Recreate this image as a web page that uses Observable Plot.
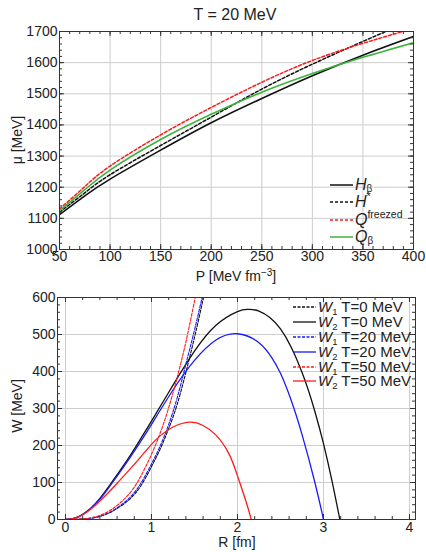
<!DOCTYPE html>
<html><head><meta charset="utf-8">
<script src="https://cdn.jsdelivr.net/npm/d3@7"></script>
<script src="https://cdn.jsdelivr.net/npm/@observablehq/plot@0.6"></script>
<style>
body{margin:0;background:#fff;}
#wrap{position:relative;width:426px;height:552px;overflow:hidden;}
#wrap svg{position:absolute;left:0;}
</style></head><body><div id="wrap"></div>
<script>
// ---------- data: top panel (T = 20 MeV) ----------
const P = [50, 75, 100, 150, 200, 250, 300, 350, 400];
const muHbeta    = [1112, 1172, 1226, 1319, 1407, 1485, 1558, 1624, 1684];
const muHstar    = [1120, 1182, 1240, 1334, 1425, 1515, 1595, 1668, 1738];
const muQfreezed = [1130, 1202, 1268, 1368, 1456, 1537, 1607, 1662, 1710];
const muQbeta    = [1124, 1192, 1255, 1353, 1434, 1505, 1565, 1617, 1664];
const topXTicks = [50, 100, 150, 200, 250, 300, 350, 400];
const topYTicks = [1000, 1100, 1200, 1300, 1400, 1500, 1600, 1700];

// ---------- data: bottom panel ----------
const R_W1_T0  = [0, 0.25, 0.5, 0.75, 0.9, 1.0, 1.1, 1.2, 1.3, 1.4, 1.5, 1.6, 1.66];
const W1_T0    = [0, 2, 17, 56, 100, 143, 190, 246, 312, 398, 492, 595, 660];
const R_W2_T0  = [0, 0.1, 0.2, 0.3, 0.4, 0.5, 0.6, 0.75, 0.9, 1.0, 1.25, 1.5, 1.75, 2.0, 2.12, 2.25, 2.5, 2.75, 2.9, 3.0, 3.1, 3.19];
const W2_T0    = [0, 3, 14, 32, 57, 88, 121, 172, 228, 266, 363, 455, 525, 562, 568, 563, 515, 398, 292, 205, 103, 0];
const R_W1_T20 = [0, 0.25, 0.5, 0.75, 0.9, 1.0, 1.1, 1.2, 1.3, 1.4, 1.5, 1.6, 1.65];
const W1_T20   = [0, 2, 18, 60, 107, 150, 198, 257, 330, 420, 512, 612, 665];
const R_W2_T20 = [0, 0.1, 0.2, 0.3, 0.4, 0.5, 0.6, 0.75, 0.9, 1.0, 1.25, 1.5, 1.75, 2.0, 2.25, 2.4, 2.5, 2.62, 2.75, 2.9, 3.0];
const W2_T20   = [0, 3, 13, 31, 55, 85, 117, 167, 220, 257, 350, 430, 485, 502, 478, 437, 395, 325, 230, 100, 0];
const R_W1_T50 = [0, 0.25, 0.5, 0.75, 0.9, 1.0, 1.1, 1.2, 1.3, 1.4, 1.5, 1.56];
const W1_T50   = [0, 3, 22, 72, 128, 176, 233, 302, 385, 480, 590, 660];
const R_W2_T50 = [0, 0.1, 0.2, 0.3, 0.4, 0.5, 0.6, 0.75, 0.9, 1.0, 1.1, 1.25, 1.445, 1.6, 1.75, 1.9, 2.0, 2.1, 2.16];
const W2_T50   = [0, 3, 13, 29, 50, 73, 98, 136, 176, 203, 226, 250, 263, 254, 228, 178, 118, 48, 0];
const botXTicks = [0, 1, 2, 3, 4];
const botYTicks = [0, 100, 200, 300, 400, 500, 600];

// ---------- style ----------
const FONT = '"Liberation Sans", Arial, Helvetica, sans-serif';
const GRID = "#cdcdcd", FRAME = "#333333";
const BLACK = "#111111", RED = "#ff1a1a", GREEN = "#3cb43c", BLUE = "#1a1aff";

function frameTicks(xs, ys, len, pw, ph) {
  return [
    Plot.ruleX(xs, {x: d => d, insetTop: ph - len, stroke: FRAME}),
    Plot.ruleX(xs, {x: d => d, insetBottom: ph - len, stroke: FRAME}),
    Plot.ruleY(ys, {y: d => d, insetRight: pw - len, stroke: FRAME}),
    Plot.ruleY(ys, {y: d => d, insetLeft: pw - len, stroke: FRAME})
  ];
}
const pts = (xs, ys) => xs.map((x, i) => ({x, y: ys[i]}));

const wrap = document.getElementById("wrap");

// ---------- top plot ----------
const tW = 426, tH = 276, tML = 59, tMR = 13, tMT = 31, tMB = 27;
const tPW = tW - tML - tMR, tPH = tH - tMT - tMB;
const topMinorX = d3.range(50, 401, 10), topMinorY = d3.range(1000, 1701, 20);
const tl = (ys, color, dashed) => Plot.line(pts(P, ys), {
  x: "x", y: "y", stroke: color, strokeWidth: dashed ? 1.5 : 1.6,
  strokeDasharray: dashed ? "3,2" : null, curve: "natural", clip: true
});
const topPlot = Plot.plot({
  width: tW, height: tH, marginLeft: tML, marginRight: tMR, marginTop: tMT, marginBottom: tMB,
  x: {domain: [50, 400]}, y: {domain: [1000, 1700]},
  style: {fontFamily: FONT, fontSize: "14px", background: "transparent", color: "#222"},
  marks: [
    Plot.gridX(topXTicks, {stroke: GRID, strokeOpacity: 1}),
    Plot.gridY(topYTicks, {stroke: GRID, strokeOpacity: 1}),
    tl(muHbeta, BLACK, false),
    tl(muHstar, BLACK, true),
    tl(muQfreezed, RED, true),
    tl(muQbeta, GREEN, false),
    ...frameTicks(topMinorX, topMinorY, 3, tPW, tPH),
    ...frameTicks(topXTicks, topYTicks, 5, tPW, tPH),
    Plot.frame({stroke: FRAME}),
    Plot.axisX(topXTicks, {tickSize: 0, tickPadding: 2, label: null, fontSize: 14, tickFormat: d => String(d)}),
    Plot.axisY(topYTicks, {tickSize: 0, tickPadding: 2, label: null, fontSize: 14, tickFormat: d => String(d)})
  ]
});
topPlot.style.top = "0px";
wrap.appendChild(topPlot);

// ---------- bottom plot ----------
const bW = 426, bH = 276, bML = 57, bMR = 11, bMT = 21, bMB = 33;
const bPW = bW - bML - bMR, bPH = bH - bMT - bMB;
const botMinorX = d3.range(0, 4.01, 0.2), botMinorY = d3.range(0, 601, 20);
const bl = (xs, ys, color, dashed) => Plot.line(pts(xs, ys), {
  x: "x", y: "y", stroke: color, strokeWidth: dashed ? 1.1 : 1.3,
  strokeDasharray: dashed ? "3,1.5" : null, curve: "natural", clip: true
});
const botPlot = Plot.plot({
  width: bW, height: bH, marginLeft: bML, marginRight: bMR, marginTop: bMT, marginBottom: bMB,
  x: {domain: [-0.093, 4.07]}, y: {domain: [0, 600]},
  style: {fontFamily: FONT, fontSize: "14px", background: "transparent", color: "#222"},
  marks: [
    Plot.gridX(botXTicks, {stroke: GRID, strokeOpacity: 1}),
    Plot.gridY(botYTicks, {stroke: GRID, strokeOpacity: 1}),
    bl(R_W1_T0, W1_T0, BLACK, true),
    bl(R_W2_T0, W2_T0, BLACK, false),
    bl(R_W1_T20, W1_T20, BLUE, true),
    bl(R_W2_T20, W2_T20, BLUE, false),
    bl(R_W1_T50, W1_T50, RED, true),
    bl(R_W2_T50, W2_T50, RED, false),
    ...frameTicks(botMinorX, botMinorY, 3, bPW, bPH),
    ...frameTicks(botXTicks, botYTicks, 5, bPW, bPH),
    Plot.frame({stroke: FRAME}),
    Plot.axisX(botXTicks, {tickSize: 0, tickPadding: 3, label: null, fontSize: 14, tickFormat: d => String(d)}),
    Plot.axisY(botYTicks, {tickSize: 0, tickPadding: 2, label: null, fontSize: 14, tickFormat: d => String(d)})
  ]
});
botPlot.style.top = "276px";
wrap.appendChild(botPlot);

// ---------- overlay: title, axis labels, legends ----------
const ov = d3.select(wrap).append("svg")
  .attr("width", 426).attr("height", 552)
  .style("top", "0px").style("pointer-events", "none")
  .attr("font-family", FONT).attr("fill", "#222");

ov.append("text").attr("x", 235).attr("y", 20).attr("text-anchor", "middle")
  .attr("font-size", 16).text("T = 20 MeV");

const xl1 = ov.append("text").attr("x", 236).attr("y", 281).attr("text-anchor", "middle").attr("font-size", 14);
xl1.append("tspan").text("P [MeV fm");
xl1.append("tspan").attr("dy", -5).attr("font-size", 10).text("−3");
xl1.append("tspan").attr("dy", 5).text("]");

ov.append("text").attr("transform", "translate(22,140) rotate(-90)").attr("text-anchor", "middle")
  .attr("font-size", 14).text("μ [MeV]");

ov.append("text").attr("x", 237).attr("y", 547).attr("text-anchor", "middle").attr("font-size", 14).text("R [fm]");
ov.append("text").attr("transform", "translate(22,406) rotate(-90)").attr("text-anchor", "middle")
  .attr("font-size", 14).text("W [MeV]");

// top legend
const topLegend = [
  {y: 185, color: BLACK, dash: null, main: "H", sub: "β", sup: null},
  {y: 202, color: BLACK, dash: "3,2", main: "H", sub: null, sup: "*"},
  {y: 220, color: RED, dash: "3,2", main: "Q", sub: null, sup: "freezed"},
  {y: 237, color: GREEN, dash: null, main: "Q", sub: "β", sup: null}
];
topLegend.forEach(r => {
  ov.append("line").attr("x1", 330).attr("x2", 353).attr("y1", r.y).attr("y2", r.y)
    .attr("stroke", r.color).attr("stroke-width", 1.5).attr("stroke-dasharray", r.dash);
  const t = ov.append("text").attr("x", 355).attr("y", r.y + 4.5).attr("font-size", 16);
  t.append("tspan").attr("font-style", "italic").text(r.main);
  if (r.sub) t.append("tspan").attr("dy", 2.5).attr("font-size", 10).text(r.sub);
  if (r.sup) t.append("tspan").attr("dy", -6.5).attr("font-size", 10.5).text(r.sup);
});

// bottom legend
const botLegend = [
  {y: 307, color: BLACK, dash: "3,1.5", idx: "1", label: " T=0 MeV"},
  {y: 322, color: BLACK, dash: null, idx: "2", label: " T=0 MeV"},
  {y: 337, color: BLUE, dash: "3,1.5", idx: "1", label: " T=20 MeV"},
  {y: 352, color: BLUE, dash: null, idx: "2", label: " T=20 MeV"},
  {y: 367, color: RED, dash: "3,1.5", idx: "1", label: " T=50 MeV"},
  {y: 381, color: RED, dash: null, idx: "2", label: " T=50 MeV"}
];
botLegend.forEach(r => {
  ov.append("line").attr("x1", 293).attr("x2", 316).attr("y1", r.y).attr("y2", r.y)
    .attr("stroke", r.color).attr("stroke-width", 1.3).attr("stroke-dasharray", r.dash);
  const t = ov.append("text").attr("x", 318).attr("y", r.y + 5).attr("font-size", 15);
  t.append("tspan").attr("font-style", "italic").text("W");
  t.append("tspan").attr("dy", 2.5).attr("font-size", 9.5).text(r.idx);
  t.append("tspan").attr("dy", -2.5).text(r.label);
});
</script></body></html>
